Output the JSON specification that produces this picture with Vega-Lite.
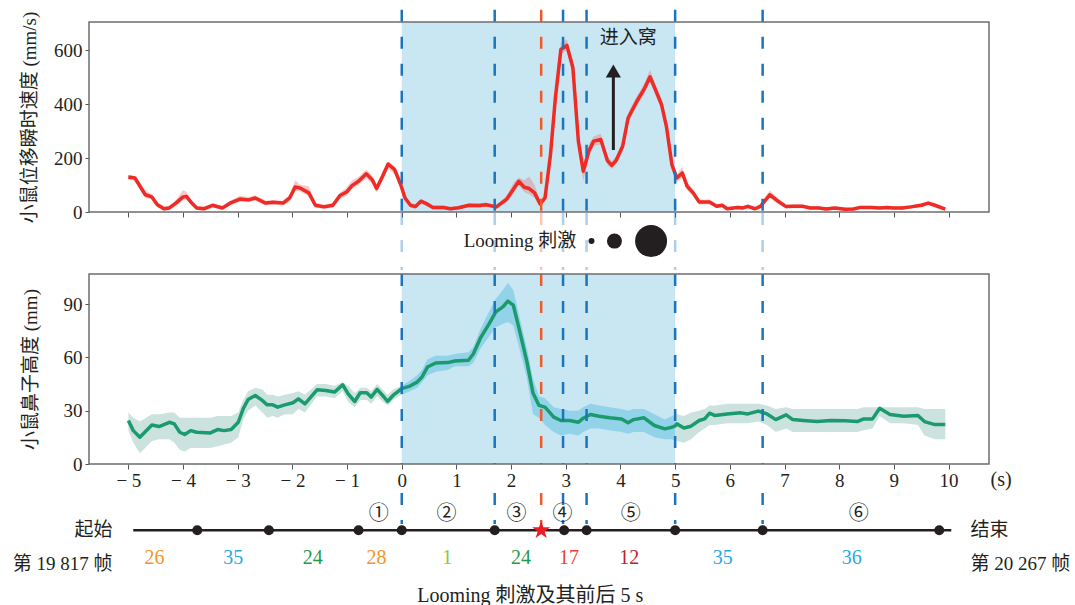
{
"$schema": "https://vega.github.io/schema/vega-lite/v6.json",
"padding": {"left": 12, "top": 8, "right": 5, "bottom": 0},
"background": "white",
"spacing": 0,
"config": {
  "view": {"stroke": null},
  "font": "Liberation Serif",
  "axis": {"grid": false, "domain": false, "labelFont": "Liberation Serif", "labelFontSize": 19, "labelColor": "#231f20", "titleFont": "Liberation Serif, Noto Sans CJK SC", "titleFontSize": 19, "titleFontWeight": "normal", "titleColor": "#231f20", "tickColor": "#555555", "tickSize": 4, "labelPadding": 3}
},
"datasets": {
  "spd": [
    {"t": -5.0, "v": 130, "lo": 120, "hi": 138},
    {"t": -4.88, "v": 126, "lo": 116, "hi": 134},
    {"t": -4.69, "v": 64, "lo": 52, "hi": 80},
    {"t": -4.57, "v": 56, "lo": 46, "hi": 66},
    {"t": -4.47, "v": 27, "lo": 18, "hi": 36},
    {"t": -4.35, "v": 12, "lo": 5, "hi": 20},
    {"t": -4.25, "v": 15, "lo": 8, "hi": 24},
    {"t": -4.13, "v": 33, "lo": 24, "hi": 45},
    {"t": -4.0, "v": 56, "lo": 44, "hi": 82},
    {"t": -3.94, "v": 58, "lo": 46, "hi": 75},
    {"t": -3.84, "v": 33, "lo": 24, "hi": 42},
    {"t": -3.75, "v": 15, "lo": 8, "hi": 22},
    {"t": -3.62, "v": 12, "lo": 6, "hi": 20},
    {"t": -3.46, "v": 25, "lo": 16, "hi": 32},
    {"t": -3.28, "v": 15, "lo": 8, "hi": 22},
    {"t": -3.12, "v": 35, "lo": 26, "hi": 44},
    {"t": -2.96, "v": 48, "lo": 38, "hi": 60},
    {"t": -2.8, "v": 45, "lo": 36, "hi": 56},
    {"t": -2.68, "v": 52, "lo": 42, "hi": 62},
    {"t": -2.49, "v": 33, "lo": 24, "hi": 42},
    {"t": -2.36, "v": 36, "lo": 28, "hi": 44},
    {"t": -2.17, "v": 33, "lo": 24, "hi": 42},
    {"t": -2.05, "v": 52, "lo": 40, "hi": 64},
    {"t": -1.95, "v": 93, "lo": 78, "hi": 118},
    {"t": -1.86, "v": 89, "lo": 76, "hi": 102},
    {"t": -1.7, "v": 71, "lo": 58, "hi": 96},
    {"t": -1.58, "v": 25, "lo": 16, "hi": 34},
    {"t": -1.42, "v": 19, "lo": 12, "hi": 28},
    {"t": -1.26, "v": 25, "lo": 16, "hi": 34},
    {"t": -1.13, "v": 61, "lo": 48, "hi": 72},
    {"t": -1.01, "v": 74, "lo": 60, "hi": 90},
    {"t": -0.91, "v": 98, "lo": 84, "hi": 118},
    {"t": -0.79, "v": 114, "lo": 100, "hi": 130},
    {"t": -0.65, "v": 142, "lo": 124, "hi": 158},
    {"t": -0.54, "v": 120, "lo": 104, "hi": 136},
    {"t": -0.46, "v": 87, "lo": 72, "hi": 100},
    {"t": -0.35, "v": 133, "lo": 118, "hi": 150},
    {"t": -0.25, "v": 178, "lo": 160, "hi": 188},
    {"t": -0.13, "v": 157, "lo": 140, "hi": 170},
    {"t": -0.02, "v": 102, "lo": 88, "hi": 118},
    {"t": 0.06, "v": 52, "lo": 42, "hi": 64},
    {"t": 0.16, "v": 25, "lo": 16, "hi": 34},
    {"t": 0.25, "v": 20, "lo": 12, "hi": 28},
    {"t": 0.35, "v": 40, "lo": 30, "hi": 48},
    {"t": 0.44, "v": 32, "lo": 24, "hi": 40},
    {"t": 0.57, "v": 17, "lo": 10, "hi": 24},
    {"t": 0.76, "v": 17, "lo": 10, "hi": 24},
    {"t": 0.89, "v": 12, "lo": 6, "hi": 18},
    {"t": 1.04, "v": 16, "lo": 9, "hi": 23},
    {"t": 1.23, "v": 25, "lo": 17, "hi": 32},
    {"t": 1.42, "v": 24, "lo": 16, "hi": 32},
    {"t": 1.54, "v": 27, "lo": 19, "hi": 35},
    {"t": 1.73, "v": 19, "lo": 12, "hi": 26},
    {"t": 1.92, "v": 48, "lo": 36, "hi": 60},
    {"t": 2.05, "v": 87, "lo": 70, "hi": 110},
    {"t": 2.14, "v": 114, "lo": 98, "hi": 128},
    {"t": 2.24, "v": 92, "lo": 74, "hi": 118},
    {"t": 2.33, "v": 87, "lo": 66, "hi": 132},
    {"t": 2.43, "v": 71, "lo": 52, "hi": 100},
    {"t": 2.53, "v": 30, "lo": 20, "hi": 42},
    {"t": 2.62, "v": 52, "lo": 40, "hi": 64},
    {"t": 2.72, "v": 213, "lo": 190, "hi": 240},
    {"t": 2.81, "v": 424, "lo": 400, "hi": 450},
    {"t": 2.91, "v": 603, "lo": 585, "hi": 630},
    {"t": 3.02, "v": 618, "lo": 600, "hi": 640},
    {"t": 3.13, "v": 535, "lo": 510, "hi": 560},
    {"t": 3.23, "v": 263, "lo": 230, "hi": 300},
    {"t": 3.32, "v": 151, "lo": 115, "hi": 180},
    {"t": 3.42, "v": 225, "lo": 200, "hi": 250},
    {"t": 3.51, "v": 263, "lo": 245, "hi": 280},
    {"t": 3.64, "v": 269, "lo": 250, "hi": 290},
    {"t": 3.76, "v": 191, "lo": 175, "hi": 210},
    {"t": 3.84, "v": 173, "lo": 160, "hi": 188},
    {"t": 3.92, "v": 191, "lo": 176, "hi": 206},
    {"t": 4.04, "v": 244, "lo": 226, "hi": 262},
    {"t": 4.14, "v": 349, "lo": 330, "hi": 368},
    {"t": 4.3, "v": 411, "lo": 392, "hi": 430},
    {"t": 4.43, "v": 455, "lo": 436, "hi": 474},
    {"t": 4.54, "v": 502, "lo": 482, "hi": 528},
    {"t": 4.65, "v": 449, "lo": 430, "hi": 468},
    {"t": 4.75, "v": 399, "lo": 380, "hi": 418},
    {"t": 4.84, "v": 318, "lo": 298, "hi": 338},
    {"t": 4.94, "v": 176, "lo": 158, "hi": 196},
    {"t": 5.03, "v": 126, "lo": 110, "hi": 140},
    {"t": 5.13, "v": 145, "lo": 128, "hi": 168},
    {"t": 5.22, "v": 95, "lo": 80, "hi": 110},
    {"t": 5.33, "v": 71, "lo": 58, "hi": 84},
    {"t": 5.44, "v": 37, "lo": 28, "hi": 46},
    {"t": 5.63, "v": 37, "lo": 28, "hi": 46},
    {"t": 5.76, "v": 21, "lo": 14, "hi": 28},
    {"t": 5.86, "v": 25, "lo": 18, "hi": 32},
    {"t": 5.95, "v": 12, "lo": 6, "hi": 18},
    {"t": 6.14, "v": 17, "lo": 10, "hi": 24},
    {"t": 6.24, "v": 15, "lo": 8, "hi": 22},
    {"t": 6.33, "v": 21, "lo": 14, "hi": 28},
    {"t": 6.46, "v": 12, "lo": 6, "hi": 18},
    {"t": 6.56, "v": 21, "lo": 14, "hi": 30},
    {"t": 6.73, "v": 64, "lo": 52, "hi": 80},
    {"t": 6.87, "v": 42, "lo": 32, "hi": 52},
    {"t": 7.03, "v": 20, "lo": 13, "hi": 27},
    {"t": 7.15, "v": 21, "lo": 14, "hi": 28},
    {"t": 7.34, "v": 21, "lo": 14, "hi": 28},
    {"t": 7.47, "v": 15, "lo": 9, "hi": 21},
    {"t": 7.63, "v": 15, "lo": 9, "hi": 21},
    {"t": 7.76, "v": 11, "lo": 5, "hi": 17},
    {"t": 7.92, "v": 15, "lo": 9, "hi": 21},
    {"t": 8.11, "v": 10, "lo": 4, "hi": 16},
    {"t": 8.26, "v": 11, "lo": 5, "hi": 17},
    {"t": 8.39, "v": 17, "lo": 11, "hi": 23},
    {"t": 8.58, "v": 17, "lo": 11, "hi": 23},
    {"t": 8.74, "v": 15, "lo": 9, "hi": 21},
    {"t": 8.87, "v": 17, "lo": 11, "hi": 23},
    {"t": 8.99, "v": 15, "lo": 9, "hi": 21},
    {"t": 9.15, "v": 15, "lo": 9, "hi": 21},
    {"t": 9.31, "v": 19, "lo": 13, "hi": 25},
    {"t": 9.5, "v": 25, "lo": 18, "hi": 32},
    {"t": 9.63, "v": 33, "lo": 25, "hi": 40},
    {"t": 9.75, "v": 25, "lo": 18, "hi": 32},
    {"t": 9.94, "v": 11, "lo": 5, "hi": 17}
  ],
  "nose": [
    {"t": -5.0, "h": 24.5, "lo": 19, "hi": 29},
    {"t": -4.91, "h": 18.8, "lo": 12, "hi": 26},
    {"t": -4.79, "h": 15.1, "lo": 6, "hi": 24},
    {"t": -4.57, "h": 22.0, "lo": 13, "hi": 28},
    {"t": -4.44, "h": 21.1, "lo": 14, "hi": 28},
    {"t": -4.25, "h": 23.5, "lo": 14, "hi": 29},
    {"t": -4.16, "h": 22.6, "lo": 12, "hi": 29},
    {"t": -4.06, "h": 17.9, "lo": 8, "hi": 26},
    {"t": -3.97, "h": 16.6, "lo": 7, "hi": 26},
    {"t": -3.86, "h": 18.8, "lo": 9, "hi": 26},
    {"t": -3.75, "h": 17.9, "lo": 9, "hi": 26},
    {"t": -3.5, "h": 17.5, "lo": 9, "hi": 26},
    {"t": -3.37, "h": 19.4, "lo": 10, "hi": 27},
    {"t": -3.25, "h": 18.8, "lo": 11, "hi": 27},
    {"t": -3.12, "h": 19.4, "lo": 12, "hi": 27},
    {"t": -2.99, "h": 23.5, "lo": 15, "hi": 29},
    {"t": -2.9, "h": 31.1, "lo": 25, "hi": 36},
    {"t": -2.81, "h": 36.3, "lo": 30, "hi": 41},
    {"t": -2.68, "h": 38.6, "lo": 33, "hi": 43},
    {"t": -2.55, "h": 35.8, "lo": 29, "hi": 42},
    {"t": -2.46, "h": 33.3, "lo": 26, "hi": 39},
    {"t": -2.36, "h": 33.3, "lo": 27, "hi": 39},
    {"t": -2.27, "h": 32.0, "lo": 26, "hi": 38},
    {"t": -2.14, "h": 33.3, "lo": 28, "hi": 39},
    {"t": -1.99, "h": 34.5, "lo": 28, "hi": 40},
    {"t": -1.89, "h": 36.7, "lo": 31, "hi": 41},
    {"t": -1.77, "h": 33.9, "lo": 29, "hi": 39},
    {"t": -1.55, "h": 41.8, "lo": 38, "hi": 45},
    {"t": -1.39, "h": 41.4, "lo": 38, "hi": 45},
    {"t": -1.23, "h": 40.5, "lo": 37, "hi": 44},
    {"t": -1.08, "h": 44.6, "lo": 41, "hi": 46},
    {"t": -0.98, "h": 39.5, "lo": 35, "hi": 44},
    {"t": -0.86, "h": 35.2, "lo": 32, "hi": 40},
    {"t": -0.76, "h": 40.1, "lo": 36, "hi": 43},
    {"t": -0.64, "h": 40.1, "lo": 36, "hi": 43},
    {"t": -0.56, "h": 37.7, "lo": 34, "hi": 41},
    {"t": -0.45, "h": 42.0, "lo": 38, "hi": 45},
    {"t": -0.35, "h": 38.6, "lo": 35, "hi": 42},
    {"t": -0.26, "h": 35.2, "lo": 33, "hi": 39},
    {"t": -0.16, "h": 38.6, "lo": 36, "hi": 42},
    {"t": 0.0, "h": 42.4, "lo": 39, "hi": 44},
    {"t": 0.15, "h": 43.9, "lo": 41, "hi": 47},
    {"t": 0.28, "h": 46.1, "lo": 43, "hi": 50},
    {"t": 0.37, "h": 49.0, "lo": 46, "hi": 53},
    {"t": 0.47, "h": 54.6, "lo": 50, "hi": 59},
    {"t": 0.62, "h": 56.9, "lo": 52, "hi": 61},
    {"t": 0.84, "h": 57.1, "lo": 53, "hi": 61},
    {"t": 0.97, "h": 58.0, "lo": 55, "hi": 62},
    {"t": 1.22, "h": 58.4, "lo": 55, "hi": 63},
    {"t": 1.31, "h": 62.1, "lo": 57, "hi": 66},
    {"t": 1.44, "h": 71.0, "lo": 65, "hi": 76},
    {"t": 1.6, "h": 79.1, "lo": 72, "hi": 86},
    {"t": 1.72, "h": 85.7, "lo": 77, "hi": 93},
    {"t": 1.85, "h": 88.5, "lo": 79, "hi": 98},
    {"t": 1.94, "h": 91.7, "lo": 80, "hi": 102},
    {"t": 2.04, "h": 89.5, "lo": 78, "hi": 98},
    {"t": 2.16, "h": 74.4, "lo": 64, "hi": 82},
    {"t": 2.29, "h": 57.4, "lo": 48, "hi": 65},
    {"t": 2.4, "h": 40.0, "lo": 28, "hi": 48},
    {"t": 2.51, "h": 33.0, "lo": 26, "hi": 38},
    {"t": 2.62, "h": 32.0, "lo": 22, "hi": 37},
    {"t": 2.78, "h": 26.4, "lo": 18, "hi": 32},
    {"t": 2.91, "h": 24.5, "lo": 16, "hi": 31},
    {"t": 3.07, "h": 24.5, "lo": 17, "hi": 30},
    {"t": 3.23, "h": 23.5, "lo": 16, "hi": 30},
    {"t": 3.32, "h": 25.8, "lo": 18, "hi": 32},
    {"t": 3.45, "h": 27.9, "lo": 20, "hi": 34},
    {"t": 3.61, "h": 26.9, "lo": 20, "hi": 33},
    {"t": 3.8, "h": 26.0, "lo": 19, "hi": 32},
    {"t": 4.02, "h": 25.4, "lo": 18, "hi": 31},
    {"t": 4.14, "h": 23.2, "lo": 17, "hi": 30},
    {"t": 4.24, "h": 25.0, "lo": 18, "hi": 31},
    {"t": 4.43, "h": 26.0, "lo": 18, "hi": 31},
    {"t": 4.62, "h": 21.7, "lo": 15, "hi": 28},
    {"t": 4.81, "h": 19.8, "lo": 14, "hi": 25},
    {"t": 4.94, "h": 20.7, "lo": 14, "hi": 27},
    {"t": 5.0, "h": 21.5, "lo": 13, "hi": 28},
    {"t": 5.03, "h": 22.6, "lo": 13, "hi": 28},
    {"t": 5.16, "h": 20.3, "lo": 12, "hi": 27},
    {"t": 5.29, "h": 21.3, "lo": 14, "hi": 29},
    {"t": 5.44, "h": 24.5, "lo": 18, "hi": 30},
    {"t": 5.54, "h": 25.4, "lo": 20, "hi": 31},
    {"t": 5.63, "h": 28.6, "lo": 22, "hi": 33},
    {"t": 5.73, "h": 27.3, "lo": 22, "hi": 33},
    {"t": 5.95, "h": 28.2, "lo": 23, "hi": 34},
    {"t": 6.2, "h": 28.8, "lo": 23, "hi": 34},
    {"t": 6.33, "h": 28.2, "lo": 23, "hi": 34},
    {"t": 6.52, "h": 29.8, "lo": 24, "hi": 34},
    {"t": 6.68, "h": 28.2, "lo": 22, "hi": 33},
    {"t": 6.84, "h": 25.0, "lo": 18, "hi": 31},
    {"t": 7.03, "h": 27.7, "lo": 20, "hi": 32},
    {"t": 7.15, "h": 25.0, "lo": 18, "hi": 31},
    {"t": 7.34, "h": 24.5, "lo": 18, "hi": 31},
    {"t": 7.6, "h": 23.9, "lo": 18, "hi": 31},
    {"t": 7.85, "h": 24.5, "lo": 18, "hi": 31},
    {"t": 8.11, "h": 24.3, "lo": 18, "hi": 31},
    {"t": 8.33, "h": 23.9, "lo": 18, "hi": 31},
    {"t": 8.45, "h": 25.4, "lo": 19, "hi": 32},
    {"t": 8.61, "h": 25.4, "lo": 20, "hi": 32},
    {"t": 8.74, "h": 31.4, "lo": 27, "hi": 32},
    {"t": 8.93, "h": 27.9, "lo": 23, "hi": 32},
    {"t": 9.18, "h": 26.9, "lo": 23, "hi": 32},
    {"t": 9.44, "h": 27.3, "lo": 22, "hi": 32},
    {"t": 9.56, "h": 23.9, "lo": 16, "hi": 31},
    {"t": 9.75, "h": 22.2, "lo": 14, "hi": 31},
    {"t": 9.94, "h": 22.2, "lo": 14, "hi": 31}
  ],
  "events": [
    {"t": 0.0, "k": "b"}, {"t": 1.7, "k": "b"}, {"t": 2.55, "k": "o"}, {"t": 2.95, "k": "b"},
    {"t": 3.38, "k": "b"}, {"t": 5.0, "k": "b"}, {"t": 6.6, "k": "b"}
  ],
  "stops": [
    {"t": -3.74}, {"t": -2.43}, {"t": -0.79}, {"t": 0.0}, {"t": 1.7}, {"t": 2.97}, {"t": 3.38}, {"t": 5.0}, {"t": 6.6}, {"t": 9.83}
  ],
  "phases": [
    {"t": -0.42, "s": "①"}, {"t": 0.82, "s": "②"}, {"t": 2.1, "s": "③"}, {"t": 2.94, "s": "④"}, {"t": 4.19, "s": "⑤"}, {"t": 8.36, "s": "⑥"}
  ],
  "counts": [
    {"t": -4.52, "n": "26", "c": "a"}, {"t": -3.08, "n": "35", "c": "b"}, {"t": -1.63, "n": "24", "c": "c"},
    {"t": -0.46, "n": "28", "c": "a"}, {"t": 0.83, "n": "1", "c": "d"}, {"t": 2.18, "n": "24", "c": "c"},
    {"t": 3.06, "n": "17", "c": "e"}, {"t": 4.16, "n": "12", "c": "f"}, {"t": 5.87, "n": "35", "c": "b"}, {"t": 8.23, "n": "36", "c": "b"}
  ]
},
"vconcat": [
  {
    "width": 900, "height": 190,
    "layer": [
      {"data": {"values": [{"a": 0, "b": 5}]}, "mark": {"type": "rect", "color": "#c9e6f3"},
       "encoding": {"x": {"field": "a", "type": "quantitative", "scale": {"domain": [-5.72, 10.74], "nice": false, "zero": false},
                          "axis": {"values": [-5,-4,-3,-2,-1,0,1,2,3,4,5,6,7,8,9,10], "labels": false, "title": null, "tickSize": 5}},
                    "x2": {"field": "b"}}},
      {"data": {"name": "spd"}, "mark": {"type": "area", "color": "#e86a6a", "opacity": 0.35},
       "encoding": {"x": {"field": "t", "type": "quantitative"},
                    "y": {"field": "lo", "type": "quantitative", "scale": {"domain": [0, 705], "nice": false},
                          "axis": {"values": [0, 200, 400, 600], "title": "小鼠位移瞬时速度 (mm/s)", "titlePadding": 14}},
                    "y2": {"field": "hi"}}},
      {"data": {"name": "spd"}, "mark": {"type": "line", "color": "#ee2b25", "strokeWidth": 3.5, "strokeJoin": "round"},
       "encoding": {"x": {"field": "t", "type": "quantitative"}, "y": {"field": "v", "type": "quantitative"}}},
      {"data": {"name": "events"},
       "mark": {"type": "rule", "strokeWidth": 2.5, "strokeDash": [12, 15]},
       "encoding": {"x": {"field": "t", "type": "quantitative"}, "y": {"datum": 750}, "y2": {"datum": 0},
                    "color": {"field": "k", "type": "nominal", "legend": null, "scale": {"domain": ["b", "o"], "range": ["#1b75bc", "#f05a28"]}}}},
      {"data": {"name": "events"},
       "mark": {"type": "rule", "strokeWidth": 2.5, "strokeDash": [12, 15], "opacity": 0.35},
       "encoding": {"x": {"field": "t", "type": "quantitative"}, "y": {"datum": -4}, "y2": {"datum": -215},
                    "color": {"field": "k", "type": "nominal", "legend": null}}},
      {"data": {"values": [{"t": 3.19, "v": -108, "s": "Looming 刺激"}]},
       "mark": {"type": "text", "font": "Liberation Serif, Noto Sans CJK SC", "fontSize": 19, "align": "right", "baseline": "middle", "color": "#231f20"},
       "encoding": {"x": {"field": "t", "type": "quantitative"}, "y": {"field": "v", "type": "quantitative"}, "text": {"field": "s"}}},
      {"data": {"values": [{"t": 3.47, "v": -108, "d": 6}, {"t": 3.89, "v": -108, "d": 15}, {"t": 4.56, "v": -108, "d": 32}]},
       "mark": {"type": "circle", "color": "#231f20", "opacity": 1},
       "encoding": {"x": {"field": "t", "type": "quantitative"}, "y": {"field": "v", "type": "quantitative"},
                    "size": {"field": "d", "type": "quantitative", "scale": {"type": "pow", "exponent": 2, "domain": [0, 32], "range": [0, 1024]}, "legend": null}}},
      {"data": {"values": [{"t": 3.87, "a": 230, "b": 505}]}, "mark": {"type": "rule", "color": "#231f20", "strokeWidth": 3},
       "encoding": {"x": {"field": "t", "type": "quantitative"}, "y": {"field": "a", "type": "quantitative"}, "y2": {"field": "b"}}},
      {"data": {"values": [{"t": 3.87, "v": 523}]}, "mark": {"type": "point", "shape": "triangle-up", "filled": true, "color": "#231f20", "opacity": 1, "size": 230},
       "encoding": {"x": {"field": "t", "type": "quantitative"}, "y": {"field": "v", "type": "quantitative"}}},
      {"data": {"values": [{"t": 4.14, "v": 647, "s": "进入窝"}]}, "mark": {"type": "text", "font": "Noto Sans CJK SC", "fontSize": 19, "color": "#231f20"},
       "encoding": {"x": {"field": "t", "type": "quantitative"}, "y": {"field": "v", "type": "quantitative"}, "text": {"field": "s"}}},
      {"data": {"values": [{"x0": -5.72, "x1": 10.74, "y0": 0, "y1": 705}]}, "mark": {"type": "rect", "filled": false, "stroke": "#6d6e71", "strokeWidth": 1.5},
       "encoding": {"x": {"field": "x0", "type": "quantitative"}, "x2": {"field": "x1"}, "y": {"field": "y0", "type": "quantitative"}, "y2": {"field": "y1"}}}
    ]
  },
  {
    "width": 900, "height": 190,
    "layer": [
      {"data": {"values": [{"a": 0, "b": 5}]}, "mark": {"type": "rect", "color": "#c9e6f3"},
       "encoding": {"x": {"field": "a", "type": "quantitative", "scale": {"domain": [-5.72, 10.74], "nice": false, "zero": false},
                          "axis": {"values": [-5,-4,-3,-2,-1,0,1,2,3,4,5,6,7,8,9,10], "title": null, "tickSize": 5, "labelPadding": 2,
                                   "labelExpr": "datum.value < 0 ? '− ' + (-datum.value) : datum.label"}},
                    "x2": {"field": "b"}}},
      {"data": {"name": "nose"}, "transform": [{"filter": "datum.t <= 0"}], "mark": {"type": "area", "color": "#8fbfb5", "opacity": 0.45},
       "encoding": {"x": {"field": "t", "type": "quantitative"},
                    "y": {"field": "lo", "type": "quantitative", "scale": {"domain": [0, 107], "nice": false},
                          "axis": {"values": [0, 30, 60, 90], "title": "小鼠鼻子高度 (mm)", "titlePadding": 23}},
                    "y2": {"field": "hi"}}},
      {"data": {"name": "nose"}, "transform": [{"filter": "datum.t >= 0 && datum.t <= 5"}], "mark": {"type": "area", "color": "#5cc0e0", "opacity": 0.5},
       "encoding": {"x": {"field": "t", "type": "quantitative"}, "y": {"field": "lo", "type": "quantitative"}, "y2": {"field": "hi"}}},
      {"data": {"name": "nose"}, "transform": [{"filter": "datum.t >= 5"}], "mark": {"type": "area", "color": "#8fbfb5", "opacity": 0.45},
       "encoding": {"x": {"field": "t", "type": "quantitative"}, "y": {"field": "lo", "type": "quantitative"}, "y2": {"field": "hi"}}},
      {"data": {"name": "nose"}, "mark": {"type": "line", "color": "#1b9a6e", "strokeWidth": 3.5, "strokeJoin": "round"},
       "encoding": {"x": {"field": "t", "type": "quantitative"}, "y": {"field": "h", "type": "quantitative"}}},
      {"data": {"name": "events"},
       "mark": {"type": "rule", "strokeWidth": 2.5, "strokeDash": [12, 15]},
       "encoding": {"x": {"field": "t", "type": "quantitative"}, "y": {"datum": 107}, "y2": {"datum": 0},
                    "color": {"field": "k", "type": "nominal", "legend": null, "scale": {"domain": ["b", "o"], "range": ["#1b75bc", "#f05a28"]}}}},
      {"data": {"values": [{"t": 10.96, "v": -9, "s": "(s)"}]},
       "mark": {"type": "text", "font": "Liberation Serif", "fontSize": 20, "align": "center", "baseline": "middle", "color": "#231f20"},
       "encoding": {"x": {"field": "t", "type": "quantitative"}, "y": {"field": "v", "type": "quantitative"}, "text": {"field": "s"}}},
      {"data": {"values": [{"x0": -5.72, "x1": 10.74, "y0": 0, "y1": 107}]}, "mark": {"type": "rect", "filled": false, "stroke": "#6d6e71", "strokeWidth": 1.5},
       "encoding": {"x": {"field": "x0", "type": "quantitative"}, "x2": {"field": "x1"}, "y": {"field": "y0", "type": "quantitative"}, "y2": {"field": "y1"}}}
    ]
  },
  {
    "width": 900, "height": 116,
    "layer": [
      {"data": {"values": [{"a": -4.91, "b": 10.05, "y": 0}]}, "mark": {"type": "rule", "color": "#231f20", "strokeWidth": 2.5},
       "encoding": {"x": {"field": "a", "type": "quantitative", "scale": {"domain": [-5.72, 10.74], "nice": false, "zero": false}, "axis": null},
                    "x2": {"field": "b"},
                    "y": {"field": "y", "type": "quantitative", "scale": {"domain": [-4.235, 2.255], "nice": false, "zero": false}, "axis": null}}},
      {"data": {"name": "events"},
       "mark": {"type": "rule", "strokeWidth": 2.5, "strokeDash": [12, 15]},
       "encoding": {"x": {"field": "t", "type": "quantitative"}, "y": {"datum": 2.09}, "y2": {"datum": 0.35},
                    "color": {"field": "k", "type": "nominal", "legend": null, "scale": {"domain": ["b", "o"], "range": ["#1b75bc", "#f05a28"]}}}},
      {"data": {"name": "stops"}, "mark": {"type": "circle", "color": "#231f20", "opacity": 1, "size": 100},
       "encoding": {"x": {"field": "t", "type": "quantitative"}, "y": {"datum": 0}}},
      {"data": {"values": [{"t": 2.55}]}, "mark": {"type": "point", "shape": "M0,-1L0.225,-0.309L0.951,-0.309L0.363,0.118L0.588,0.809L0,0.382L-0.588,0.809L-0.363,0.118L-0.951,-0.309L-0.225,-0.309Z", "filled": true, "color": "#ed1c24", "opacity": 1, "size": 360},
       "encoding": {"x": {"field": "t", "type": "quantitative"}, "y": {"datum": 0}}},
      {"data": {"name": "phases"}, "mark": {"type": "text", "font": "Noto Sans CJK SC", "fontSize": 20, "color": "#231f20", "baseline": "middle"},
       "encoding": {"x": {"field": "t", "type": "quantitative"}, "y": {"datum": 0.92}, "text": {"field": "s"}}},
      {"data": {"name": "counts"}, "mark": {"type": "text", "font": "Liberation Serif", "fontSize": 20, "baseline": "middle"},
       "encoding": {"x": {"field": "t", "type": "quantitative"}, "y": {"datum": -1.53}, "text": {"field": "n"},
                    "fill": {"field": "c", "type": "nominal", "legend": null,
                              "scale": {"domain": ["a", "b", "c", "d", "e", "f"], "range": ["#f7941d", "#27aae1", "#1f9a4a", "#8dc63f", "#ef4136", "#be1e2d"]}}}},
      {"data": {"values": [{"t": -5.29, "y": 0, "s": "起始"}, {"t": -5.29, "y": -1.88, "s": "第 19 817 帧"}]},
       "mark": {"type": "text", "font": "Liberation Serif, Noto Sans CJK SC", "fontSize": 19, "align": "right", "baseline": "middle", "color": "#231f20"},
       "encoding": {"x": {"field": "t", "type": "quantitative"}, "y": {"field": "y", "type": "quantitative"}, "text": {"field": "s"}}},
      {"data": {"values": [{"t": 10.4, "y": 0, "s": "结束"}, {"t": 10.4, "y": -1.88, "s": "第 20 267 帧"}]},
       "mark": {"type": "text", "font": "Liberation Serif, Noto Sans CJK SC", "fontSize": 19, "align": "left", "baseline": "middle", "color": "#231f20"},
       "encoding": {"x": {"field": "t", "type": "quantitative"}, "y": {"field": "y", "type": "quantitative"}, "text": {"field": "s"}}},
      {"data": {"values": [{"t": 2.35, "y": -3.7, "s": "Looming 刺激及其前后 5 s"}]},
       "mark": {"type": "text", "font": "Liberation Serif, Noto Sans CJK SC", "fontSize": 20, "align": "center", "baseline": "middle", "color": "#231f20"},
       "encoding": {"x": {"field": "t", "type": "quantitative"}, "y": {"field": "y", "type": "quantitative"}, "text": {"field": "s"}}}
    ]
  }
]
}
